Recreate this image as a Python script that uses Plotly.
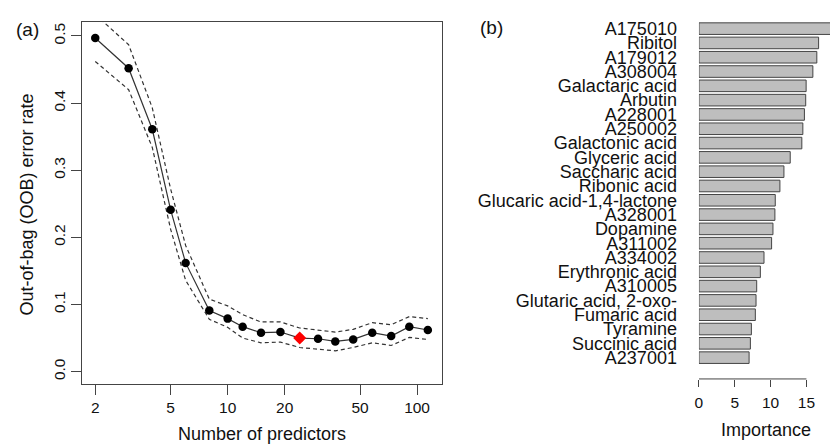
import plotly.graph_objects as go

W, H = 830, 445

# ---- Panel (a) data ----
n_pred = [2, 3, 4, 5, 6, 8, 10, 12, 15, 19, 24, 30, 37, 46, 58, 73, 91, 114]
oob = [0.497, 0.452, 0.361, 0.241, 0.162, 0.091, 0.079, 0.067, 0.058, 0.059,
       0.050, 0.049, 0.045, 0.048, 0.058, 0.053, 0.067, 0.062]
oob_upper = [0.532, 0.487, 0.393, 0.272, 0.188, 0.108, 0.098, 0.085, 0.074, 0.074,
             0.065, 0.062, 0.059, 0.063, 0.073, 0.070, 0.082, 0.079]
oob_lower = [0.462, 0.420, 0.334, 0.212, 0.136, 0.078, 0.066, 0.050, 0.043, 0.044,
             0.036, 0.034, 0.031, 0.036, 0.043, 0.039, 0.051, 0.048]
best_index = 10
x_ticks = [2, 5, 10, 20, 50, 100]
y_ticks = [0.0, 0.1, 0.2, 0.3, 0.4, 0.5]
y_ticktext = ["0.0", "0.1", "0.2", "0.3", "0.4", "0.5"]

# ---- Panel (b) data ----
variables = ["A175010", "Ribitol", "A179012", "A308004", "Galactaric acid", "Arbutin",
             "A228001", "A250002", "Galactonic acid", "Glyceric acid", "Saccharic acid",
             "Ribonic acid", "Glucaric acid-1,4-lactone", "A328001", "Dopamine", "A311002",
             "A334002", "Erythronic acid", "A310005", "Glutaric acid, 2-oxo-",
             "Fumaric acid", "Tyramine", "Succinic acid", "A237001"]
importance = [18.8, 16.7, 16.45, 15.9, 14.96, 14.9, 14.72, 14.5, 14.36, 12.74, 11.86,
              11.3, 10.65, 10.6, 10.33, 10.14, 9.08, 8.57, 8.06, 7.97, 7.87, 7.32, 7.18, 7.0]
imp_ticks = [0, 5, 10, 15]

FONT = "Liberation Sans, Arial, sans-serif"
AX = "#444444"

def px_x(p):
    return p / W

def px_y(p):
    return 1 - p / H

fig = go.Figure()

# dashed bands
for band in (oob_upper, oob_lower):
    fig.add_trace(go.Scatter(x=n_pred, y=band, mode="lines",
                             line=dict(color="#333333", width=1.2, dash="4px,3px"),
                             xaxis="x", yaxis="y", showlegend=False, hoverinfo="skip"))
# main line and points
fig.add_trace(go.Scatter(x=n_pred, y=oob, mode="lines+markers",
                         line=dict(color="#333333", width=1.2),
                         marker=dict(color="black", size=8.5, symbol="circle"),
                         xaxis="x", yaxis="y", showlegend=False))
fig.add_trace(go.Scatter(x=[n_pred[best_index]], y=[oob[best_index]], mode="markers",
                         marker=dict(color="red", size=10, symbol="diamond"),
                         xaxis="x", yaxis="y", showlegend=False))

# bars
fig.add_trace(go.Bar(x=importance, y=variables, orientation="h",
                     marker=dict(color="#bebebe", line=dict(color="#444444", width=1)),
                     xaxis="x2", yaxis="y2", showlegend=False))

fig.update_layout(
    width=W, height=H,
    margin=dict(l=0, r=0, t=0, b=0),
    paper_bgcolor="white", plot_bgcolor="white",
    font=dict(family=FONT, color="#111111", size=15.5),
    bargap=0.19,
    xaxis=dict(domain=[px_x(78), px_x(440)], type="log", range=[0.229, 2.131],
               tickvals=x_ticks, ticktext=[str(v) for v in x_ticks],
               showline=True, mirror=True, linecolor=AX, linewidth=1,
               ticks="outside", ticklen=10, tickcolor=AX, tickwidth=1,
               showgrid=False, zeroline=False, tickfont=dict(size=15.5),
               ticklabelstandoff=-1),
    yaxis=dict(domain=[px_y(384), px_y(19)], range=[-0.019, 0.521],
               tickvals=y_ticks, ticktext=y_ticktext, tickangle=-90,
               showline=True, mirror=True, linecolor=AX, linewidth=1,
               ticks="outside", ticklen=10, tickcolor=AX, tickwidth=1,
               showgrid=False, zeroline=False, tickfont=dict(size=15.5),
               ticklabelstandoff=-1),
    xaxis2=dict(domain=[px_x(698.3), 1.0], range=[0, 18.29],
                tickvals=imp_ticks, ticks="outside", ticklen=7, tickcolor=AX, tickwidth=1,
                showline=False, showgrid=False, zeroline=False, tickfont=dict(size=15.5),
                anchor="y2", ticklabelstandoff=2),
    yaxis2=dict(domain=[px_y(378.5), px_y(18.6)], type="category",
                range=[24.49, -0.5], showline=False, showgrid=False, zeroline=False,
                tickmode="array", tickvals=variables, ticktext=variables,
                ticks="", tickfont=dict(size=18), anchor="x2",
                ticklabelstandoff=21),
)

# axis line of importance axis (from first to last tick, R style)
fig.add_shape(type="line", xref="x2", yref="paper", x0=imp_ticks[0], x1=imp_ticks[-1],
              y0=px_y(378.5), y1=px_y(378.5), line=dict(color=AX, width=1))

ann = [
    dict(text="(a)", x=px_x(10), y=px_y(27), xanchor="left", yanchor="middle", size=19),
    dict(text="(b)", x=px_x(476.5), y=px_y(24.5), xanchor="left", yanchor="middle", size=19),
    dict(text="Importance", x=px_x(766), y=px_y(429.5), xanchor="center",
         yanchor="middle", size=18),
]
for a in ann:
    fig.add_annotation(text=a["text"], x=a["x"], y=a["y"], xref="paper", yref="paper",
                       xanchor=a["xanchor"], yanchor=a["yanchor"], showarrow=False,
                       font=dict(family=FONT, size=a["size"], color="#111111"))
fig.add_annotation(text="Number of predictors", x=px_x(259), y=0, xref="paper", yref="paper",
                   xanchor="center", yanchor="bottom", showarrow=False, borderpad=0,
                   font=dict(family=FONT, size=18, color="#111111"))
fig.add_annotation(text="Out-of-bag (OOB) error rate", x=px_x(23), y=px_y(203),
                   xref="paper", yref="paper", xanchor="center", yanchor="middle",
                   textangle=-90, showarrow=False,
                   font=dict(family=FONT, size=18, color="#111111"))

fig.write_html("out.html")
